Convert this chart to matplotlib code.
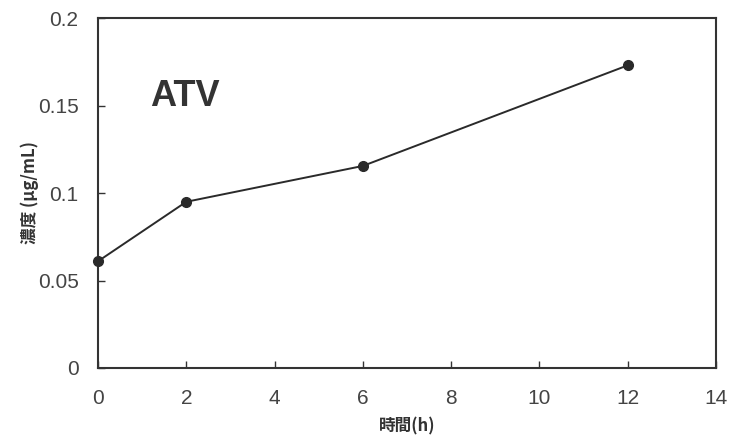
import matplotlib.pyplot as plt

plt.rcParams['font.family'] = ['Liberation Sans', 'Noto Sans CJK JP', 'DejaVu Sans']

# Datos
tiempo = [0, 2, 6, 12]
concentracion = [0.061, 0.095, 0.1155, 0.173]
xticks = [0, 2, 4, 6, 8, 10, 12, 14]
yticks = [0, 0.05, 0.1, 0.15, 0.2]
yticklabels = ['0', '0.05', '0.1', '0.15', '0.2']

fig = plt.figure(figsize=(7.34, 4.44), dpi=100)
ax = fig.add_axes([0.1335, 0.1712, 0.842, 0.788])

ax.plot(tiempo, concentracion, color='#2a2a2a', lw=1.4, marker='o', ms=7,
        markerfacecolor='#2a2a2a', markeredgecolor='#2a2a2a', clip_on=False, zorder=3)

ax.set_xlim(0, 14)
ax.set_ylim(0, 0.2)
ax.set_xticks(xticks)
ax.set_yticks(yticks)
ax.set_yticklabels(yticklabels)
ax.tick_params(direction='in', length=5, width=1, colors='#333333', labelsize=15, pad=14)
ax.tick_params(axis='y', labelcolor='#444444')
ax.tick_params(axis='x', pad=15, labelcolor='#444444')
for s in ax.spines.values():
    s.set_linewidth(1.5)
    s.set_color('#333333')

ax.text(1.17, 0.1495, 'ATV', fontsize=26, fontweight='bold', color='#333333')

ax.set_xlabel('時間(h)', family=['Noto Sans CJK JP'], fontweight='bold',
              fontsize=12, color='#333333', labelpad=7)
ax.set_ylabel('濃度 (μg/mL)', family=['Noto Sans CJK JP'], fontweight='bold',
              fontsize=12, color='#333333', labelpad=-1)

fig.savefig('out.png', dpi=100)
